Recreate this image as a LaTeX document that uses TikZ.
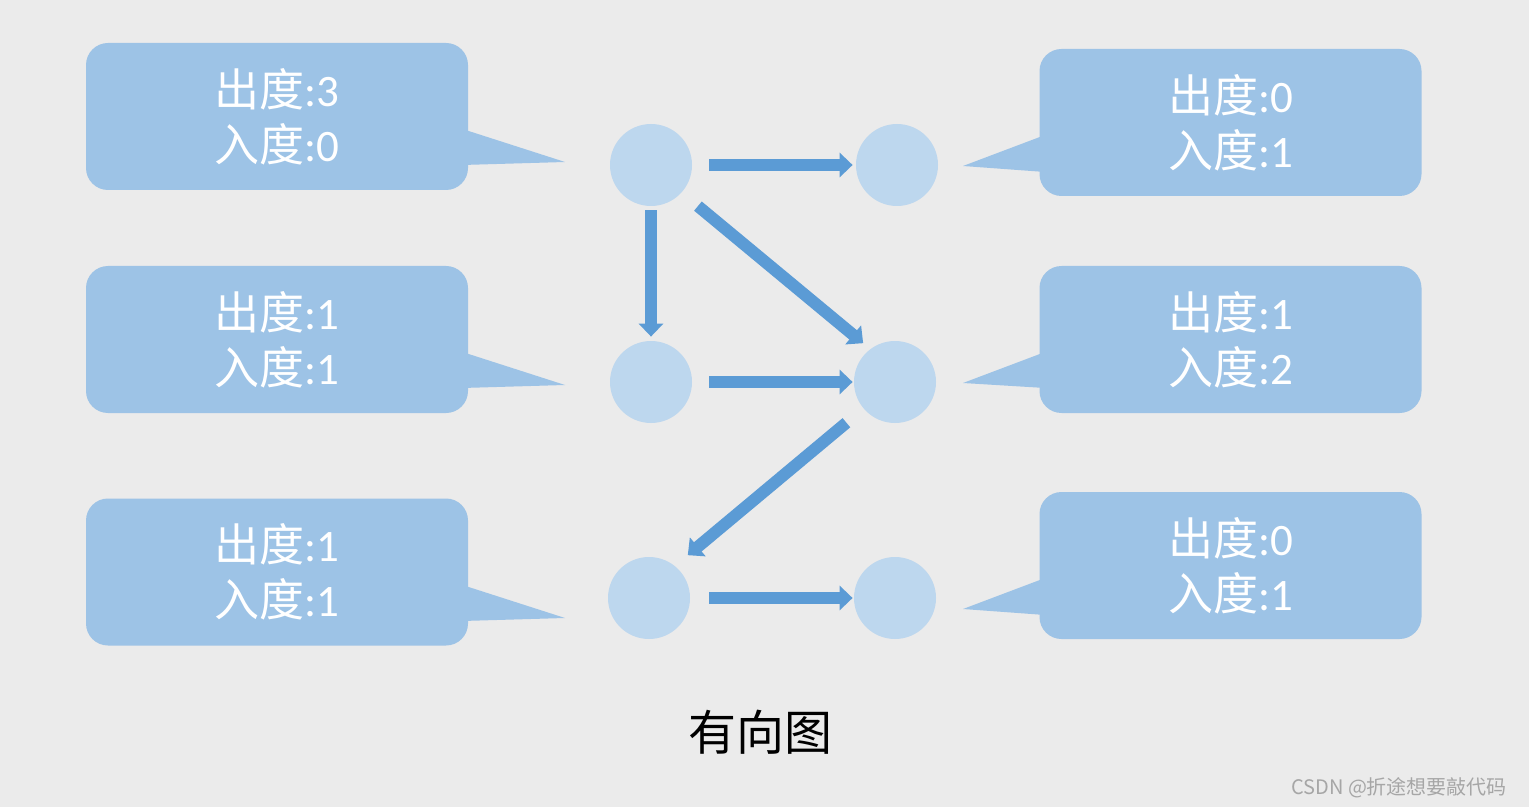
\documentclass[tikz,border=0pt]{standalone}
\usepackage{fontspec}
\setmainfont{Carlito}
\newfontfamily\cjk{Noto Sans CJK SC}
\usetikzlibrary{arrows.meta,calc}
\definecolor{bgc}{HTML}{EBEBEB}
\definecolor{boxc}{HTML}{9DC3E6}
\definecolor{circc}{HTML}{BDD7EE}
\definecolor{arrc}{HTML}{5B9BD5}
\definecolor{wmc}{HTML}{A6A6A6}
\begin{document}
\begin{tikzpicture}[x=0.5pt,y=-0.5pt,
  callout/.style={fill=boxc, rounded corners=11pt, minimum width=191pt, minimum height=73.5pt,
    text=white, align=center, font=\fontsize{22.5}{27.5}\selectfont, inner sep=0pt},
  pointer/.style={fill=boxc},
  vtx/.style={circle, fill=circc, minimum size=41pt, inner sep=0pt},
  arr/.style={draw=arrc, line width=6pt, -{Triangle[width=12pt,length=6.5pt]}},
  title/.style={font=\cjk\fontsize{24}{28}\selectfont, text=black},
  wm/.style={font=\cjk\fontsize{10}{12}\selectfont, text=wmc, anchor=east}]
\fill[bgc] (0,0) rectangle (1529,807);
\useasboundingbox (0,0) rectangle (1529,807);
% callouts
\node[callout] (L1) at (277,116.5) {{\cjk 出度}:3\\{\cjk 入度}:0};
\node[callout] (L2) at (277,339.5) {{\cjk 出度}:1\\{\cjk 入度}:1};
\node[callout] (L3) at (277,572) {{\cjk 出度}:1\\{\cjk 入度}:1};
\node[callout] (R1) at (1230.5,122.5) {{\cjk 出度}:0\\{\cjk 入度}:1};
\node[callout] (R2) at (1230.5,339.5) {{\cjk 出度}:1\\{\cjk 入度}:2};
\node[callout] (R3) at (1230.5,565.5) {{\cjk 出度}:0\\{\cjk 入度}:1};
% pointer tips
\coordinate (tL1) at (565,162);
\coordinate (tL2) at (565,385);
\coordinate (tL3) at (565,618);
\coordinate (tR1) at (963,166);
\coordinate (tR2) at (963,383);
\coordinate (tR3) at (963,609);
\fill[pointer] ($(L1.east)+(-6,12.5)$) -- (tL1) -- ($(L1.east)+(-6,48.5)$) -- cycle;
\fill[pointer] ($(L2.east)+(-6,12.5)$) -- (tL2) -- ($(L2.east)+(-6,48.5)$) -- cycle;
\fill[pointer] ($(L3.east)+(-6,13)$) -- (tL3) -- ($(L3.east)+(-6,49)$) -- cycle;
\fill[pointer] ($(R1.west)+(6,12.5)$) -- (tR1) -- ($(R1.west)+(6,49.5)$) -- cycle;
\fill[pointer] ($(R2.west)+(6,12.5)$) -- (tR2) -- ($(R2.west)+(6,48.5)$) -- cycle;
\fill[pointer] ($(R3.west)+(6,12.5)$) -- (tR3) -- ($(R3.west)+(6,49.5)$) -- cycle;
% vertices
\node[vtx] (A) at (651,165) {};
\node[vtx] (B) at (897,165) {};
\node[vtx] (D) at (651,382) {};
\node[vtx] (E) at (895,382) {};
\node[vtx] (F) at (649,598) {};
\node[vtx] (G) at (895,598) {};
% edges
\draw[arr, shorten <=8.5pt, shorten >=1.5pt] (A) -- (B);
\draw[arr, shorten <=2pt, shorten >=2pt] (A) -- (D);
\draw[arr, shorten <=10.5pt, shorten >=4.5pt] (A.-42) -- (E.127);
\draw[arr, shorten <=8.5pt, shorten >=0.5pt] (D) -- (E);
\draw[arr, shorten <=11pt, shorten >=8.3pt] (E.220.5) -- (F.51.3);
\draw[arr, shorten <=9.5pt, shorten >=0.5pt] (F) -- (G);
% title and watermark
\node[title] (T) at (760,732) {有向图};
\node[wm] (W) at (1514,788) {CSDN @折途想要敲代码};
\end{tikzpicture}
\end{document}
